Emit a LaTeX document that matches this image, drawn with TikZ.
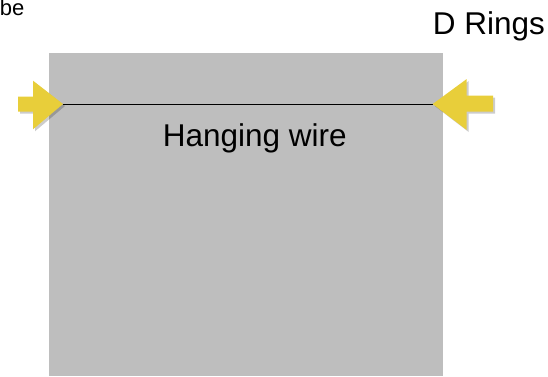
\documentclass[tikz,border=0pt]{standalone}
\usepackage{fontspec}
\setmainfont{Liberation Sans}
\usetikzlibrary{shadows}
\definecolor{boardgrey}{RGB}{190,190,190}
\definecolor{ringyellow}{RGB}{232,206,58}
\tikzset{
  board/.style={fill=boardgrey, draw=none},
  wire/.style={draw=black, line width=0.9pt},
  ringarrow/.style={fill=ringyellow, draw=none, drop shadow={shadow xshift=2pt, shadow yshift=-2pt, opacity=0.2, fill=black}},
  bigtext/.style={font=\fontsize{31.5}{36}\selectfont, inner sep=0pt},
  smalltext/.style={font=\fontsize{22}{26}\selectfont, inner sep=0pt}
}
\begin{document}
\begin{tikzpicture}[x=1pt,y=1pt]
\useasboundingbox (0,0) rectangle (548,376);
% board
\path[board] (49,0) rectangle (443,323.3);
% ring tips
\coordinate (lt) at (63,272);
\coordinate (rt) at (432.7,272);
% wire
\draw[wire] (lt) -- (rt);
% left arrow
\path[ringarrow] (lt) -- (33,295.3) -- (33,279.3) -- (18,279.3) -- (18,264.3) -- (33,264.3) -- (33,246.7) -- cycle;
% right arrow
\path[ringarrow] (rt) -- (466.7,297) -- (466.7,280.3) -- (493,280.3) -- (493,264.3) -- (466.7,264.3) -- (466.7,246) -- cycle;
% texts
\node[bigtext, anchor=base west] (hw) at (162.7,230) {Hanging wire};
\node[bigtext, anchor=base west] (dr) at (432.7,341.7) {D Rings};
\node[smalltext, anchor=base east] (be) at (24.5,361) {be};
\end{tikzpicture}
\end{document}
